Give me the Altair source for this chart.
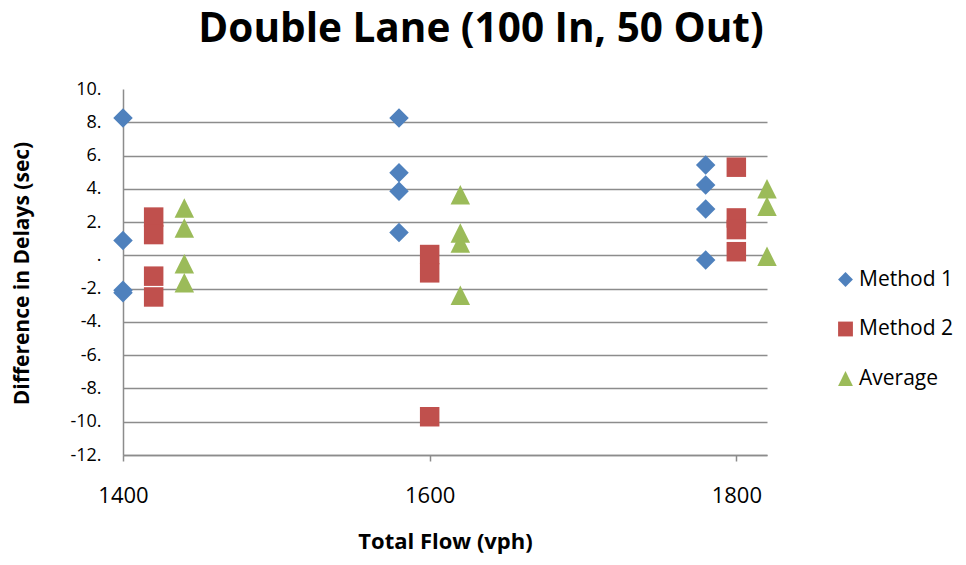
import altair as alt
import pandas as pd

# Data
m1_x = [1400, 1400, 1400, 1400, 1580, 1580, 1580, 1580, 1780, 1780, 1780, 1780]
m1_y = [8.25, 0.9, -2.1, -2.25, 8.25, 4.97, 3.85, 1.38, 5.43, 4.23, 2.78, -0.28]

m2_x = [1420, 1420, 1420, 1420, 1600, 1600, 1600, 1800, 1800, 1800, 1800]
m2_y = [2.3, 1.25, -1.25, -2.5, 0.05, -1.05, -9.7, 5.3, 2.25, 1.55, 0.22]

avg_x = [1440, 1440, 1440, 1440, 1620, 1620, 1620, 1620, 1820, 1820, 1820]
avg_y = [2.85, 1.65, -0.5, -1.65, 3.65, 1.35, 0.75, -2.4, 4.0, 2.95, -0.05]

series_names = ["Method 1", "Method 2", "Average"]
series_colors = ["#4F81BD", "#C0504D", "#9BBB59"]
series_shapes = ["diamond", "square", "M0,-1L1,1L-1,1Z"]

x_ticks = [1400, 1600, 1800]
y_ticks = list(range(-12, 11, 2))

rows = []
for name, xs, ys in zip(series_names, [m1_x, m2_x, avg_x], [m1_y, m2_y, avg_y]):
    for xv, yv in zip(xs, ys):
        rows.append({"flow": xv, "diff": yv, "series": name})
df = pd.DataFrame(rows)

FONT = "Open Sans"
GRID = "#8C8C8C"

chart = alt.Chart(df).mark_point(filled=True, opacity=1, size=380).encode(
    x=alt.X("flow:Q",
            scale=alt.Scale(domain=[1400, 1820], nice=False, zero=False),
            axis=alt.Axis(values=x_ticks, format="d", title="Total Flow (vph)", grid=False,
                          labelFlush=False,
                          domainColor=GRID, domainWidth=1.5, tickColor=GRID,
                          tickWidth=1.5, tickSize=6, labelFontSize=22,
                          labelFont=FONT, labelColor="#000000", labelPadding=24,
                          titleFont=FONT, titleFontSize=22, titleFontWeight="bold",
                          titleColor="#000000", titlePadding=25)),
    y=alt.Y("diff:Q",
            scale=alt.Scale(domain=[-12, 10], nice=False, zero=False),
            axis=alt.Axis(values=y_ticks, title="Difference in Delays (sec)",
                          labelExpr="datum.value == 0 ? '.' : datum.value + '.'",
                          grid=True, gridColor=GRID, gridWidth=1.5,
                          gridOpacity={"condition": {"test": "datum.value == 10", "value": 0}, "value": 1},
                          domainColor=GRID, domainWidth=1.5, ticks=False,
                          labelFontSize=18, labelFont=FONT, labelColor="#000000",
                          labelPadding=22, titleFont=FONT, titleFontSize=21,
                          titleFontWeight="bold", titleColor="#000000",
                          titleAngle=270, titleBaseline="middle",
                          titleX=-101, titleY=184)),
    color=alt.Color("series:N",
                    scale=alt.Scale(domain=series_names, range=series_colors),
                    legend=alt.Legend(title=None, orient="none", legendX=712,
                                      legendY=180, labelFontSize=21, labelFont=FONT,
                                      labelColor="#000000", symbolSize=220,
                                      rowPadding=27.5, labelOffset=3,
                                      symbolStrokeWidth=0)),
    shape=alt.Shape("series:N",
                    scale=alt.Scale(domain=series_names, range=series_shapes),
                    legend=None),
    order=alt.Order("series:N"),
).properties(
    width=644,
    height=366,
    title=alt.Title("Double Lane (100 In, 50 Out)", font=FONT, fontSize=40.5,
                    fontWeight="bold", color="#000000", anchor="middle", dx=36,
                    offset=30),
    autosize=alt.AutoSizeParams(type="none"),
    padding={"left": 115, "top": 81, "right": 191, "bottom": 102},
).configure(background="white", view=alt.ViewConfig(stroke=None))

chart.save("out.html", embed_options={"renderer": "svg", "actions": False})
